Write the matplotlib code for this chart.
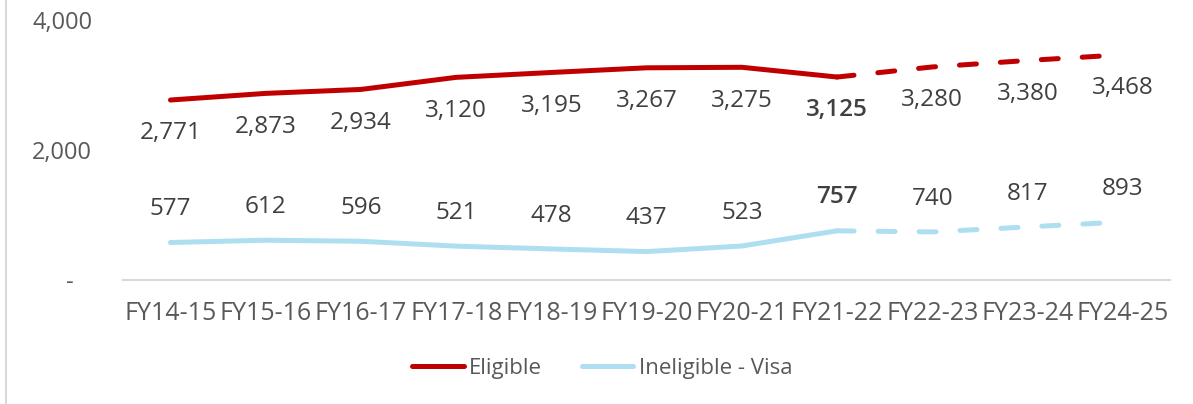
import matplotlib
matplotlib.use('Agg')
import matplotlib.pyplot as plt
from matplotlib.lines import Line2D

years = ['FY14-15', 'FY15-16', 'FY16-17', 'FY17-18', 'FY18-19', 'FY19-20',
         'FY20-21', 'FY21-22', 'FY22-23', 'FY23-24', 'FY24-25']
eligible = [2771, 2873, 2934, 3120, 3195, 3267, 3275, 3125, 3280, 3380, 3468]
ineligible = [577, 612, 596, 521, 478, 437, 523, 757, 740, 817, 893]
split = 7  # last actual year (FY21-22), projections after

red = '#C00000'
blue = '#ADDFF1'
plt.rcParams['font.family'] = ['Open Sans', 'DejaVu Sans']

fig = plt.figure(figsize=(11.93, 4.04), dpi=100)
ax = fig.add_axes([0.103, 0.307, 0.878, 0.643])
x = list(range(len(years)))

lw = 3.6
ax.plot(x[:split + 1], eligible[:split + 1], color=red, lw=lw, solid_capstyle='round')
ax.plot(x[split:], eligible[split:], color=red, lw=lw, dashes=(3.4, 4.8), dash_capstyle='round')
ax.plot(x[:split + 1], ineligible[:split + 1], color=blue, lw=lw, solid_capstyle='round')
ax.plot(x[split:], ineligible[split:], color=blue, lw=lw, dashes=(3.4, 4.8), dash_capstyle='round')

for i in x:
    w = 'semibold' if i == split else 'normal'
    ax.annotate(f'{eligible[i]:,}', (i, eligible[i]), xytext=(0, -24), textcoords='offset points',
                ha='center', va='center', fontsize=17.5, color='#404040', fontweight=w)
    ax.annotate(f'{ineligible[i]:,}', (i, ineligible[i]), xytext=(0, 24), textcoords='offset points',
                ha='center', va='center', fontsize=17.5, color='#404040', fontweight=w)

ax.set_xlim(-0.5, len(years) - 0.5)
ax.set_ylim(0, 4000)
ax.set_yticks([0, 2000, 4000])
ax.set_yticklabels(['-   ', '2,000', '4,000'])
ax.set_xticks(x)
ax.set_xticklabels(years)
ax.tick_params(axis='both', length=0, labelsize=17, labelcolor='#595959')
ax.tick_params(axis='x', labelsize=18, pad=15)
ax.tick_params(axis='y', pad=22)
for s in ['top', 'right', 'left']:
    ax.spines[s].set_visible(False)
ax.spines['bottom'].set_color('#D9D9D9')
ax.spines['bottom'].set_linewidth(1.5)

handles = [Line2D([], [], color=red, lw=lw, solid_capstyle='round'),
           Line2D([], [], color=blue, lw=lw, solid_capstyle='round')]
fig.legend(handles, ['Eligible', 'Ineligible - Visa'], loc='center', bbox_to_anchor=(0.505, 0.088),
           ncol=2, frameon=False, fontsize=16, labelcolor='#595959', handlelength=2.3,
           handletextpad=0.25, columnspacing=1.8)

fig.add_artist(Line2D([0.005, 0.005], [0, 1], color='#D9D9D9', lw=1.5, transform=fig.transFigure))

fig.savefig('out.png', dpi=100)
